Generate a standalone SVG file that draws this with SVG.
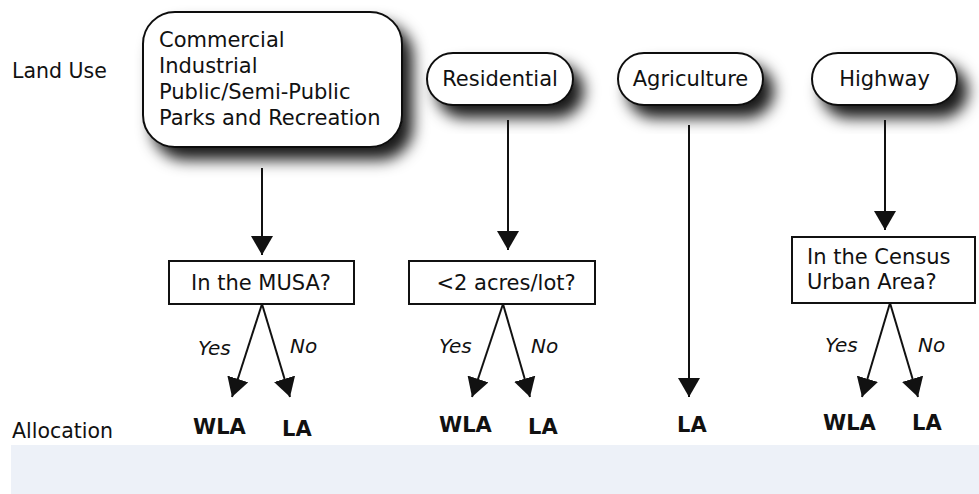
<svg xmlns="http://www.w3.org/2000/svg" width="979" height="494" viewBox="0 0 979 494">
<style>
text{font-family:"DejaVu Sans","Verdana",sans-serif;fill:#111}
.t{font-size:21px}
.lab{font-size:20.5px}
.yn{font-size:20px;font-style:italic}
.out{font-size:21px;font-weight:bold}
.node{fill:#fff;stroke:#111;stroke-width:2}
.sh{filter:url(#shadow)}
.c line{stroke:#111;stroke-width:2;marker-end:url(#ah)}
</style>
<defs>
<filter id="shadow" x="-25%" y="-25%" width="160%" height="180%">
<feDropShadow dx="10" dy="12" stdDeviation="7.5" flood-color="#000" flood-opacity="0.9"/>
</filter>
<marker id="ah" markerUnits="userSpaceOnUse" markerWidth="20" markerHeight="22" refX="19" refY="11" orient="auto">
<path d="M0,0 L19,11 L0,22 Z" fill="#111"/>
</marker>
</defs>
<rect x="11" y="445" width="968" height="49" fill="#edf1f8"/>
<text class="lab" x="12" y="78">Land Use</text>
<text class="lab" x="12" y="438">Allocation</text>

<g id="n-commercial">
<rect class="node sh" x="143" y="12" width="259" height="135" rx="32"/>
<text class="t" x="159" y="47">Commercial</text>
<text class="t" x="159" y="73">Industrial</text>
<text class="t" x="159" y="99">Public/Semi-Public</text>
<text class="t" x="159" y="125">Parks and Recreation</text>
</g>
<g id="n-residential">
<rect class="node sh" x="427" y="53" width="146" height="52" rx="26"/>
<text class="t" x="500" y="86" text-anchor="middle">Residential</text>
</g>
<g id="n-agriculture">
<rect class="node sh" x="618" y="53" width="145" height="52" rx="26"/>
<text class="t" x="690.5" y="86" text-anchor="middle">Agriculture</text>
</g>
<g id="n-highway">
<rect class="node sh" x="812" y="53" width="145" height="52" rx="26"/>
<text class="t" x="884.5" y="86" text-anchor="middle">Highway</text>
</g>

<g id="n-musa">
<rect class="node" x="169" y="261" width="185" height="43"/>
<text class="t" x="261" y="290" text-anchor="middle">In the MUSA?</text>
</g>
<g id="n-acres">
<rect class="node" x="409" y="261" width="186" height="43"/>
<text class="t" x="506" y="290" text-anchor="middle">&lt;2 acres/lot?</text>
</g>
<g id="n-census">
<rect class="node" x="792" y="237" width="183" height="66"/>
<text class="t" x="807" y="264">In the Census</text>
<text class="t" x="807" y="289">Urban Area?</text>
</g>

<g id="connectors" class="c">
<line x1="262" y1="168" x2="262" y2="255"/>
<line x1="508" y1="120" x2="508" y2="250"/>
<line x1="689" y1="125" x2="689" y2="397"/>
<line x1="885" y1="120" x2="885" y2="230"/>
<line x1="262" y1="304" x2="232" y2="397"/>
<line x1="262" y1="304" x2="290" y2="397"/>
<line x1="503" y1="304" x2="472" y2="397"/>
<line x1="503" y1="304" x2="530" y2="397"/>
<line x1="890" y1="303" x2="862" y2="397"/>
<line x1="890" y1="303" x2="918" y2="397"/>
</g>

<g id="labels">
<text class="yn" x="198" y="355">Yes</text>
<text class="yn" x="290" y="353">No</text>
<text class="yn" x="439" y="353">Yes</text>
<text class="yn" x="531" y="353">No</text>
<text class="yn" x="825" y="352">Yes</text>
<text class="yn" x="918" y="352">No</text>
</g>

<g id="n-outcomes">
<text class="out" x="193" y="434">WLA</text>
<text class="out" x="282" y="436">LA</text>
<text class="out" x="439" y="432">WLA</text>
<text class="out" x="528" y="434">LA</text>
<text class="out" x="677" y="432">LA</text>
<text class="out" x="823" y="430">WLA</text>
<text class="out" x="912" y="430">LA</text>
</g>
</svg>
